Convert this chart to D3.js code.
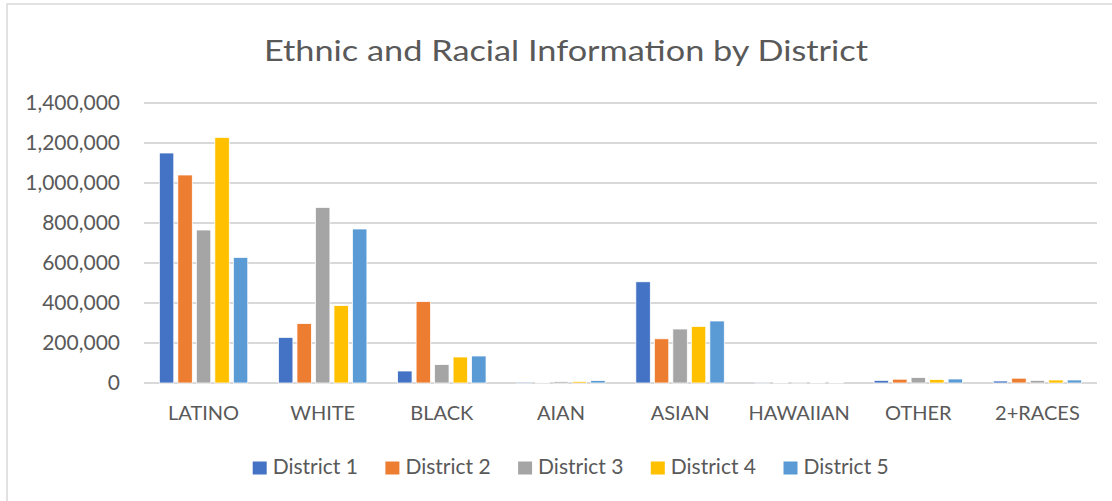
<!DOCTYPE html>
<head>
  <meta charset="utf-8">
  <script src="https://d3js.org/d3.v7.min.js"></script>
  <style>
body { margin: 0; background: #fff; }
text { font-family: Lato, "Open Sans", sans-serif; fill: #595959; }
.grid line { stroke: #d9d9d9; stroke-width: 2px; }
  </style>
</head>

<body>
  <script>
    // data
    var categories = ['LATINO', 'WHITE', 'BLACK', 'AIAN', 'ASIAN', 'HAWAIIAN', 'OTHER', '2+RACES'];
    var districts = ['District 1', 'District 2', 'District 3', 'District 4', 'District 5'];
    var district1 = [1150000, 228000, 60000, 5000, 506000, 1500, 13000, 10000];
    var district2 = [1040000, 297000, 407000, 4000, 221000, 3500, 19000, 24000];
    var district3 = [765000, 878000, 92000, 7000, 270000, 1500, 27000, 13000];
    var district4 = [1228000, 387000, 130000, 8000, 283000, 3500, 17000, 15000];
    var district5 = [628000, 770000, 135000, 12000, 310000, 2000, 20000, 15000];
    var yTicks = [0, 200000, 400000, 600000, 800000, 1000000, 1200000, 1400000];
    var colors = ['#4472c4', '#ed7d31', '#a5a5a5', '#ffc000', '#5b9bd5'];

    var series = [district1, district2, district3, district4, district5];

    var width = 1112, height = 501;
    var plot = {left: 144, right: 1097, top: 103, bottom: 383};

    var svg = d3.select('body').append('svg')
      .attr('width', width)
      .attr('height', height);

    // chart frame
    svg.append('rect')
      .attr('x', 7).attr('y', 4)
      .attr('width', width + 20).attr('height', height + 20)
      .attr('fill', 'none')
      .attr('stroke', '#d9d9d9')
      .attr('stroke-width', 1.5);

    svg.append('text')
      .attr('x', 264).attr('y', 61)
      .attr('textLength', 604)
      .attr('lengthAdjust', 'spacingAndGlyphs')
      .style('font-size', '29px')
      .text('Ethnic and Racial Information by District');

    var y = d3.scaleLinear().domain([0, 1400000]).range([plot.bottom, plot.top]);
    var x0 = d3.scaleBand().domain(categories).range([plot.left, plot.right]);
    var groupW = 92.5;
    var x1 = d3.scaleBand().domain(districts)
      .range([(x0.bandwidth() - groupW) / 2, (x0.bandwidth() + groupW) / 2])
      .paddingInner(0.22).paddingOuter(0.11);
    var color = d3.scaleOrdinal(districts, colors);

    // gridlines
    svg.append('g').attr('class', 'grid')
      .selectAll('line')
      .data(yTicks)
      .enter().append('line')
      .attr('x1', plot.left).attr('x2', plot.right)
      .attr('y1', d => y(d)).attr('y2', d => y(d));

    // y labels
    var fmt = d3.format(',');
    svg.append('g')
      .selectAll('text')
      .data(yTicks)
      .enter().append('text')
      .attr('x', 120)
      .attr('y', d => y(d))
      .attr('dy', '0.35em')
      .attr('text-anchor', 'end')
      .style('font-size', '21px')
      .text(d => fmt(d));

    // bars
    var groups = svg.append('g')
      .selectAll('g')
      .data(categories)
      .enter().append('g')
      .attr('transform', d => 'translate(' + x0(d) + ',0)');

    groups.selectAll('rect')
      .data((c, i) => districts.map((dname, j) => ({name: dname, value: series[j][i]})))
      .enter().append('rect')
      .attr('x', d => x1(d.name))
      .attr('width', x1.bandwidth())
      .attr('y', d => y(d.value))
      .attr('height', d => y(0) - y(d.value))
      .attr('fill', d => color(d.name))
      .attr('stroke', '#fff')
      .attr('stroke-width', 0.75);

    // category labels
    svg.append('g')
      .selectAll('text')
      .data(categories)
      .enter().append('text')
      .attr('x', d => x0(d) + x0.bandwidth() / 2)
      .attr('y', 420)
      .attr('text-anchor', 'middle')
      .style('font-size', '20px')
      .text(d => d);

    // legend
    var legend = svg.append('g')
      .selectAll('g')
      .data(districts)
      .enter().append('g')
      .attr('transform', (d, i) => 'translate(' + (252.7 + i * 132.7) + ',461.5)');
    legend.append('rect')
      .attr('width', 14).attr('height', 13)
      .attr('fill', d => color(d));
    legend.append('text')
      .attr('x', 20).attr('y', 12)
      .style('font-size', '21px')
      .text(d => d);
  </script>
</body>
